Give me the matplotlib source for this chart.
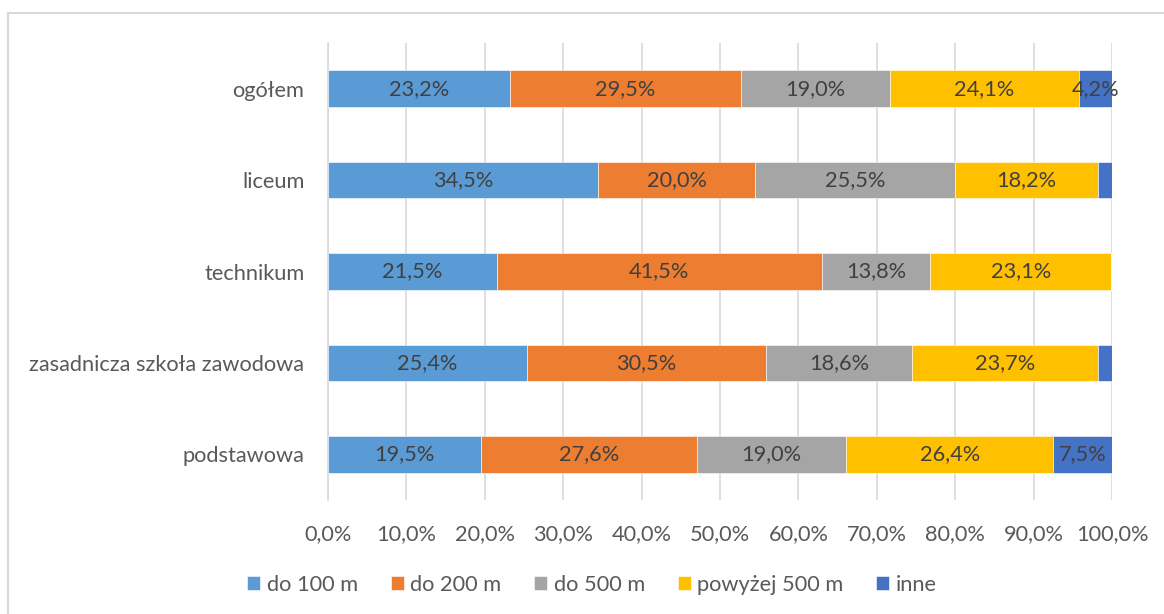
import matplotlib
matplotlib.use("Agg")
import matplotlib.pyplot as plt
from matplotlib.lines import Line2D
import numpy as np

categories = ["podstawowa", "zasadnicza szkoła zawodowa", "technikum", "liceum", "ogółem"]
series_names = ["do 100 m", "do 200 m", "do 500 m", "powyżej 500 m", "inne"]
do_100 = [19.5, 25.4, 21.5, 34.5, 23.2]
do_200 = [27.6, 30.5, 41.5, 20.0, 29.5]
do_500 = [19.0, 18.6, 13.8, 25.5, 19.0]
powyzej_500 = [26.4, 23.7, 23.1, 18.2, 24.1]
inne = [7.5, 1.8, 0.0, 1.8, 4.2]
x_ticks = [0, 10, 20, 30, 40, 50, 60, 70, 80, 90, 100]

colors = ["#5B9BD5", "#ED7D31", "#A5A5A5", "#FFC000", "#4472C4"]
text_color = "#595959"
label_color = "#404040"
fs = 15.7

plt.rcParams["font.family"] = ["Lato", "DejaVu Sans"]

fig = plt.figure(figsize=(11.64, 6.14), dpi=100)
ax = fig.add_axes([328 / 1164, 1 - 500 / 614, 784 / 1164, 457 / 614])

series = [do_100, do_200, do_500, powyzej_500, inne]
y = np.arange(len(categories))
left = np.zeros(len(categories))
for name, vals, col in zip(series_names, series, colors):
    vals = np.array(vals)
    ax.barh(y, vals, left=left, height=0.4, color=col, label=name,
            edgecolor="white", linewidth=0.4, zorder=3)
    for yi, l, v in zip(y, left, vals):
        if v >= 4:
            ax.text(l + v / 2, yi, f"{v:.1f}%".replace(".", ","),
                    ha="center", va="center", fontsize=fs, color=label_color, zorder=4)
    left += vals

ax.set_xlim(0, 100)
ax.set_ylim(-0.5, len(categories) - 0.5)
ax.set_xticks(x_ticks)
ax.set_xticklabels([f"{t:.1f}%".replace(".", ",") for t in x_ticks])
ax.set_yticks(y)
ax.set_yticklabels(categories)
ax.tick_params(axis="x", length=0, pad=17, labelsize=fs, labelcolor=text_color)
ax.tick_params(axis="y", length=0, pad=17, labelsize=fs, labelcolor=text_color)
ax.grid(axis="x", color="#D9D9D9", linewidth=1.2, zorder=0)
for s in ["top", "right", "bottom"]:
    ax.spines[s].set_visible(False)
ax.spines["left"].set_color("#D9D9D9")
ax.spines["left"].set_linewidth(1.2)

handles, labels = ax.get_legend_handles_labels()
fig.legend(handles, labels, loc="center", bbox_to_anchor=(592 / 1164, 1 - 585 / 614),
           ncol=5, frameon=False, fontsize=fs, labelcolor=text_color,
           handlelength=0.6, handleheight=0.6, handletextpad=0.3, columnspacing=1.5)

# chart-area border (top and left edges)
fig.add_artist(Line2D([8 / 1164, 1.0], [1 - 13 / 614, 1 - 13 / 614], color="#D9D9D9", linewidth=1.5))
fig.add_artist(Line2D([8 / 1164, 8 / 1164], [0.0, 1 - 13 / 614], color="#D9D9D9", linewidth=1.5))

fig.savefig("out.png", dpi=100, facecolor="white")
